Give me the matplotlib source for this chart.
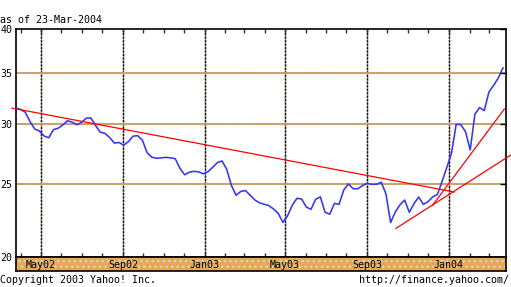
import matplotlib
matplotlib.use('Agg')
import matplotlib.pyplot as plt
import matplotlib.dates as mdates
import matplotlib.ticker as mticker
import pandas as pd

# weekly closes (Mar 2002 - Mar 2004)
week_dates = pd.date_range('2002-03-25', periods=105, freq='7D')
close = [31.45, 31.32, 31.05, 30.18, 29.51, 29.33, 28.89, 28.74, 29.46, 29.58,
         29.88, 30.26, 30.14, 29.90, 30.11, 30.50, 30.52, 29.82, 29.23, 29.13,
         28.76, 28.28, 28.33, 28.10, 28.40, 28.88, 28.92, 28.52, 27.46, 27.09,
         27.00, 27.03, 27.08, 27.03, 26.97, 26.20, 25.68, 25.88, 25.95, 25.91,
         25.75, 25.92, 26.27, 26.65, 26.78, 26.11, 24.86, 24.13, 24.41, 24.48,
         24.13, 23.79, 23.58, 23.48, 23.38, 23.14, 22.84, 22.22, 22.67, 23.41,
         23.91, 23.85, 23.28, 23.12, 23.84, 24.01, 22.91, 22.78, 23.53, 23.48,
         24.52, 24.98, 24.61, 24.61, 24.85, 25.02, 24.94, 24.95, 25.10, 24.24,
         22.21, 22.93, 23.44, 23.78, 22.91, 23.53, 24.00, 23.47, 23.67, 24.01,
         24.19, 25.18, 26.25, 27.41, 29.93, 29.91, 29.27, 27.69, 30.87, 31.50,
         31.21, 33.03, 33.70, 34.47, 35.54]

# hand drawn trend lines (start, end)
trend_dates = [('2002-03-19', '2004-01-09'),
               ('2003-12-08', '2004-03-24'),
               ('2003-10-14', '2004-04-03')]
trend_prices = [(31.45, 24.37), (23.42, 31.36), (21.82, 27.28)]

y_ticks = [20, 25, 30, 35, 40]
band_dates = ['2002-05-01', '2002-09-01', '2003-01-01', '2003-05-01', '2003-09-01', '2004-01-01']
band_labels = ['May02', 'Sep02', 'Jan03', 'May03', 'Sep03', 'Jan04']

FONT = 'DejaVu Sans Mono'
FS = 7.2
W, H = 511, 287

fig = plt.figure(figsize=(W / 100, H / 100), dpi=100)
fig.patch.set_facecolor('white')

x0, x1 = pd.Timestamp('2002-03-25'), pd.Timestamp('2004-03-26 12:00')

# main plot area
ax = fig.add_axes([16 / W, 1 - 257 / H, 490 / W, 228 / H])
ax.set_yscale('log')
ax.set_xlim(x0, x1)
ax.set_ylim(20, 40)

# grid
for d in band_dates:
    ax.axvline(pd.Timestamp(d), color='#a09080', lw=1, zorder=1)
    ax.axvline(pd.Timestamp(d), color='#101010', lw=1, ls=(0, (1.5, 1)), zorder=1)
for v in y_ticks[1:-1]:
    ax.axhline(v, color='#a8a098', lw=1.3, zorder=1)
    ax.axhline(v, color='#f09a20', lw=1.3, ls=(0, (1, 1.2)), zorder=1)

ax.plot(week_dates, close, color='#3535f5', lw=1.15, zorder=3)

for (d0, d1), (p0, p1) in zip(trend_dates, trend_prices):
    ax.plot([pd.Timestamp(d0), pd.Timestamp(d1)], [p0, p1], color='#ff0000',
            lw=0.9, zorder=4, clip_on=False)

ax.yaxis.set_major_locator(mticker.FixedLocator(y_ticks))
ax.yaxis.set_minor_locator(mticker.NullLocator())
ax.yaxis.set_major_formatter(mticker.FixedFormatter([str(v) for v in y_ticks]))
ax.tick_params(axis='y', which='major', left=False, right=True, direction='in',
               length=4, width=1, pad=2.5, labelsize=FS)
for lab in ax.get_yticklabels():
    lab.set_family(FONT)

ax.xaxis.set_major_locator(mdates.MonthLocator(bymonth=[1, 5, 9]))
ax.xaxis.set_minor_locator(mdates.MonthLocator())
ax.tick_params(axis='x', which='both', top=True, bottom=True, direction='in',
               length=3, width=1, color='#303030', labelbottom=False)
for s in ax.spines.values():
    s.set_color('black')
    s.set_linewidth(1.2)

# date band under the plot
plt.rcParams['hatch.linewidth'] = 1.2
band = fig.add_axes([16 / W, 1 - 271 / H, 490 / W, 14 / H])
band.set_xlim(x0, x1)
band.set_ylim(0, 1)
band.axvspan(x0, x1, facecolor='#e8a850', edgecolor='#d4d0cc', hatch='...', lw=0)
for d, t in zip(band_dates, band_labels):
    band.text(pd.Timestamp(d), 0.45, t, ha='center', va='center',
              fontsize=FS, family=FONT, color='black')
band.set_xticks([])
band.set_yticks([])
for s in band.spines.values():
    s.set_color('black')
    s.set_linewidth(1.2)

fig.text(0, 1 - 20 / H, 'as of 23-Mar-2004', ha='left', va='center',
         fontsize=FS, family=FONT)
fig.text(0, 1 - 280 / H, 'Copyright 2003 Yahoo! Inc.', ha='left', va='center',
         fontsize=FS, family=FONT)
fig.text(509 / W, 1 - 280 / H, 'http://finance.yahoo.com/', ha='right', va='center',
         fontsize=FS, family=FONT)

fig.savefig('out.png', dpi=100)
